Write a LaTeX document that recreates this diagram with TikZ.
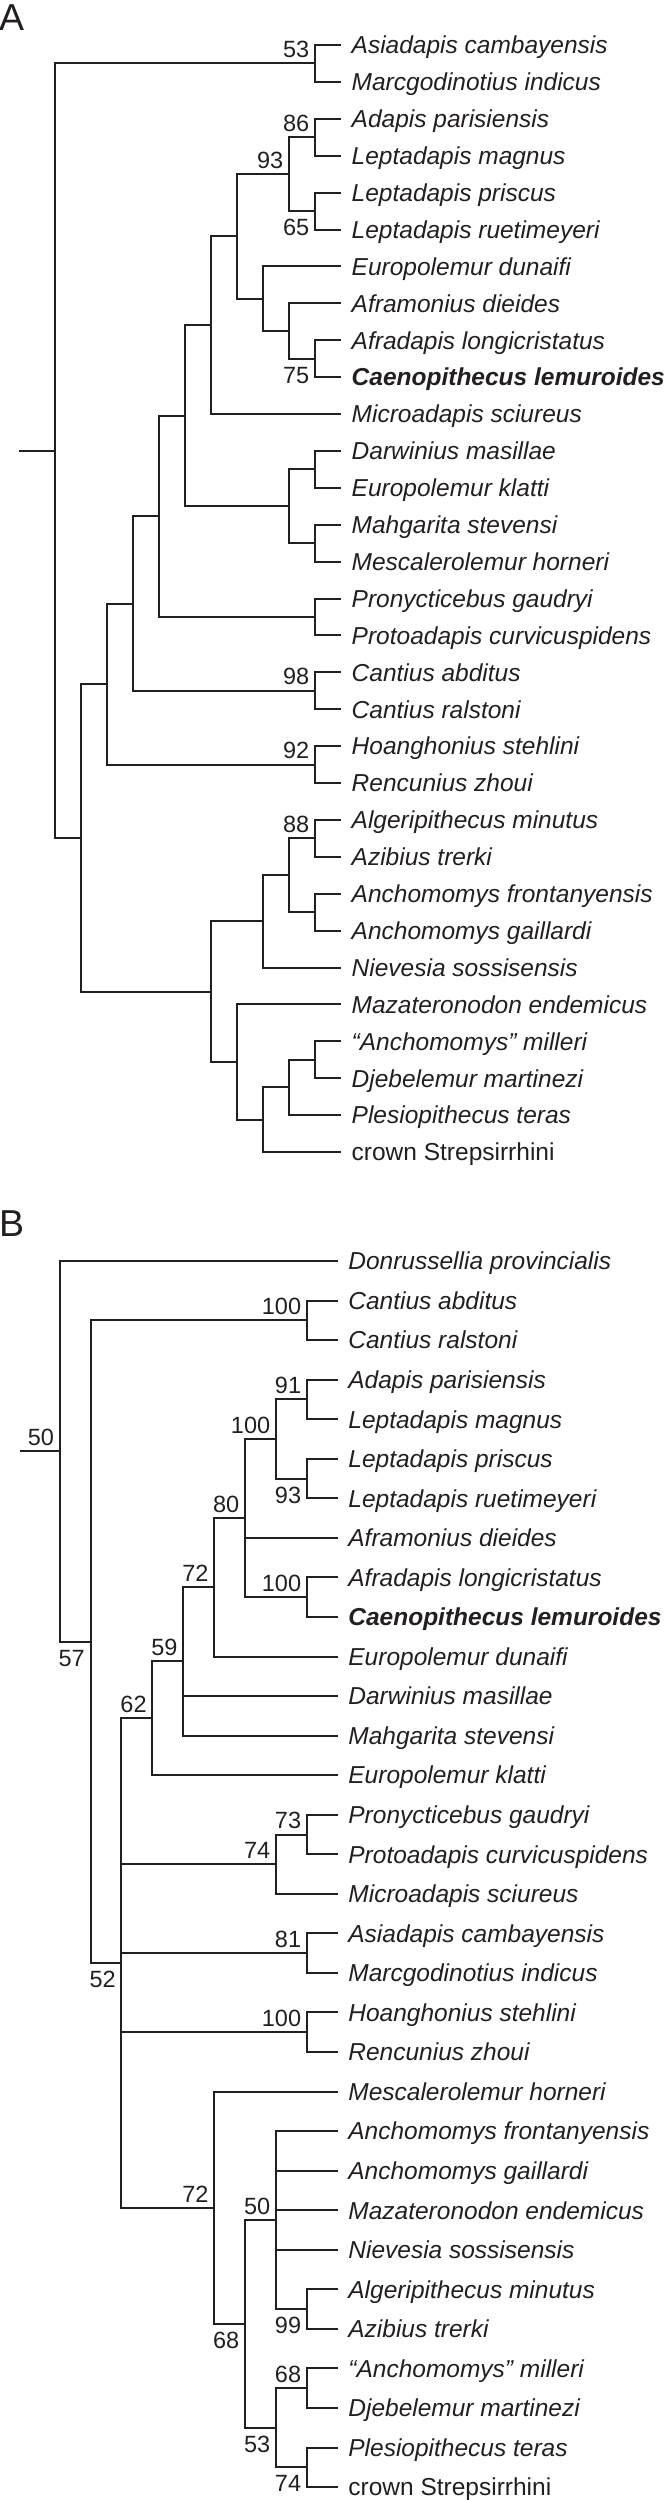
\documentclass[tikz,border=0pt]{standalone}
\usepackage{fontspec}
\setmainfont{Liberation Sans}
\definecolor{ink}{HTML}{231F20}
\newcommand\lf[4]{\coordinate (#1) at (#2,#3); \node[leaf] (t#1) at (#1) {#4};}
\newcommand\nd[3]{\coordinate (#1) at (#2,#3);}
\newcommand\cl[2]{\draw[br] (#1) |- (#2);}
\begin{document}
\begin{tikzpicture}[x=1pt,y=-1pt,
  br/.style={draw=ink, line width=2pt, line join=miter, line cap=butt},
  leaf/.style={anchor=base west, inner sep=0pt, xshift=10.5pt, yshift=-8.8pt,
    font=\fontsize{24.5}{29}\selectfont\itshape, text=ink},
  up/.style={anchor=south east, inner sep=0pt, xshift=-5.5pt, yshift=5.5pt,
    font=\fontsize{23.5}{28}\selectfont, text=ink},
  dn/.style={anchor=north east, inner sep=0pt, xshift=-5.5pt, yshift=-8pt,
    font=\fontsize{23.5}{28}\selectfont, text=ink},
  panel/.style={anchor=base west, inner sep=0pt, font=\fontsize{37.5}{40}\selectfont, text=ink}]
\useasboundingbox (0,0) rectangle (668,2500);

% ---------------- Panel A ----------------
\node[panel] (labA) at (-1,30) {A};
\lf{aAsi}{341}{45}{Asiadapis cambayensis}
\lf{aMar}{341}{81.9}{Marcgodinotius indicus}
\lf{aAda}{341}{118.8}{Adapis parisiensis}
\lf{aLma}{341}{155.7}{Leptadapis magnus}
\lf{aLpr}{341}{192.6}{Leptadapis priscus}
\lf{aLru}{341}{229.5}{Leptadapis ruetimeyeri}
\lf{aEdu}{341}{266.4}{Europolemur dunaifi}
\lf{aAfm}{341}{303.3}{Aframonius dieides}
\lf{aAfr}{341}{340.2}{Afradapis longicristatus}
\lf{aCae}{341}{377.1}{\bfseries Caenopithecus lemuroides}
\lf{aMic}{341}{414}{Microadapis sciureus}
\lf{aDar}{341}{450.9}{Darwinius masillae}
\lf{aEkl}{341}{487.8}{Europolemur klatti}
\lf{aMah}{341}{524.7}{Mahgarita stevensi}
\lf{aMes}{341}{561.6}{Mescalerolemur horneri}
\lf{aPro}{341}{598.5}{Pronycticebus gaudryi}
\lf{aPtc}{341}{635.4}{Protoadapis curvicuspidens}
\lf{aCab}{341}{672.3}{Cantius abditus}
\lf{aCra}{341}{709.2}{Cantius ralstoni}
\lf{aHoa}{341}{746.1}{Hoanghonius stehlini}
\lf{aRen}{341}{783}{Rencunius zhoui}
\lf{aAlg}{341}{819.9}{Algeripithecus minutus}
\lf{aAzi}{341}{856.8}{Azibius trerki}
\lf{aAnf}{341}{893.7}{Anchomomys frontanyensis}
\lf{aAng}{341}{930.6}{Anchomomys gaillardi}
\lf{aNie}{341}{967.5}{Nievesia sossisensis}
\lf{aMaz}{341}{1004.4}{Mazateronodon endemicus}
\lf{aMil}{341}{1041.3}{“Anchomomys” milleri}
\lf{aDje}{341}{1078.2}{Djebelemur martinezi}
\lf{aPle}{341}{1115.1}{Plesiopithecus teras}
\lf{aCro}{341}{1152}{\upshape crown Strepsirrhini}

\nd{AStub}{19}{450.65}
\nd{ARoot}{55}{450.65}
\nd{AcAsi}{315}{63.45}
\nd{AX}{81}{837.85}
\nd{AY}{107}{684}
\nd{AW}{133}{603.5}
\nd{AV}{159}{516.3}
\nd{AU}{185}{415.7}
\nd{AT}{211}{325.2}
\nd{AS}{237}{236.4}
\nd{AR}{289}{174.15}
\nd{AcAda}{315}{137.25}
\nd{AcLep}{315}{211.05}
\nd{AQ}{263}{298.7}
\nd{AP}{289}{330.975}
\nd{AcAfr}{315}{358.65}
\nd{AD}{289}{506.25}
\nd{AcDar}{315}{469.35}
\nd{AcMah}{315}{543.15}
\nd{AcPro}{315}{616.95}
\nd{AcCan}{315}{690.75}
\nd{AcHoa}{315}{764.55}
\nd{AZ}{211}{991.7}
\nd{AN}{263}{921.4}
\nd{AL}{289}{875.25}
\nd{AcAlg}{315}{838.35}
\nd{AcAnc}{315}{912.15}
\nd{AM}{237}{1062.05}
\nd{AK}{263}{1119.7}
\nd{AJ}{289}{1087.4}
\nd{AcMil}{315}{1059.75}

\draw[br] (AStub) -- (ARoot);
\cl{ARoot}{AcAsi} \cl{ARoot}{AX}
\cl{AcAsi}{aAsi} \cl{AcAsi}{aMar}
\cl{AX}{AY} \cl{AX}{AZ}
\cl{AY}{AW} \cl{AY}{AcHoa}
\cl{AW}{AV} \cl{AW}{AcCan}
\cl{AV}{AU} \cl{AV}{AcPro}
\cl{AU}{AT} \cl{AU}{AD}
\cl{AT}{AS} \cl{AT}{aMic}
\cl{AS}{AR} \cl{AS}{AQ}
\cl{AR}{AcAda} \cl{AR}{AcLep}
\cl{AcAda}{aAda} \cl{AcAda}{aLma}
\cl{AcLep}{aLpr} \cl{AcLep}{aLru}
\cl{AQ}{aEdu} \cl{AQ}{AP}
\cl{AP}{aAfm} \cl{AP}{AcAfr}
\cl{AcAfr}{aAfr} \cl{AcAfr}{aCae}
\cl{AD}{AcDar} \cl{AD}{AcMah}
\cl{AcDar}{aDar} \cl{AcDar}{aEkl}
\cl{AcMah}{aMah} \cl{AcMah}{aMes}
\cl{AcPro}{aPro} \cl{AcPro}{aPtc}
\cl{AcCan}{aCab} \cl{AcCan}{aCra}
\cl{AcHoa}{aHoa} \cl{AcHoa}{aRen}
\cl{AZ}{AN} \cl{AZ}{AM}
\cl{AN}{AL} \cl{AN}{aNie}
\cl{AL}{AcAlg} \cl{AL}{AcAnc}
\cl{AcAlg}{aAlg} \cl{AcAlg}{aAzi}
\cl{AcAnc}{aAnf} \cl{AcAnc}{aAng}
\cl{AM}{aMaz} \cl{AM}{AK}
\cl{AK}{AJ} \cl{AK}{aCro}
\cl{AJ}{AcMil} \cl{AJ}{aPle}
\cl{AcMil}{aMil} \cl{AcMil}{aDje}

\node[up] (sA1) at (AcAsi) {53};
\node[up] (sA2) at (AcAda) {86};
\node[up] (sA3) at (AR) {93};
\node[dn] (sA4) at (AcLep) {65};
\node[dn] (sA5) at (AcAfr) {75};
\node[up] (sA6) at (AcCan) {98};
\node[up] (sA7) at (AcHoa) {92};
\node[up] (sA8) at (AcAlg) {88};

% ---------------- Panel B ----------------
\node[panel] (labB) at (-1,1236.7) {B};
\lf{bDon}{337.7}{1261}{Donrussellia provincialis}
\lf{bCab}{337.7}{1300.55}{Cantius abditus}
\lf{bCra}{337.7}{1340.1}{Cantius ralstoni}
\lf{bAda}{337.7}{1379.65}{Adapis parisiensis}
\lf{bLma}{337.7}{1419.2}{Leptadapis magnus}
\lf{bLpr}{337.7}{1458.75}{Leptadapis priscus}
\lf{bLru}{337.7}{1498.3}{Leptadapis ruetimeyeri}
\lf{bAfm}{337.7}{1537.85}{Aframonius dieides}
\lf{bAfr}{337.7}{1577.4}{Afradapis longicristatus}
\lf{bCae}{337.7}{1616.95}{\bfseries Caenopithecus lemuroides}
\lf{bEdu}{337.7}{1656.5}{Europolemur dunaifi}
\lf{bDar}{337.7}{1696.05}{Darwinius masillae}
\lf{bMah}{337.7}{1735.6}{Mahgarita stevensi}
\lf{bEkl}{337.7}{1775.15}{Europolemur klatti}
\lf{bPro}{337.7}{1814.7}{Pronycticebus gaudryi}
\lf{bPtc}{337.7}{1854.25}{Protoadapis curvicuspidens}
\lf{bMic}{337.7}{1893.8}{Microadapis sciureus}
\lf{bAsi}{337.7}{1933.35}{Asiadapis cambayensis}
\lf{bMar}{337.7}{1972.9}{Marcgodinotius indicus}
\lf{bHoa}{337.7}{2012.45}{Hoanghonius stehlini}
\lf{bRen}{337.7}{2052}{Rencunius zhoui}
\lf{bMes}{337.7}{2091.55}{Mescalerolemur horneri}
\lf{bAnf}{337.7}{2131.1}{Anchomomys frontanyensis}
\lf{bAng}{337.7}{2170.65}{Anchomomys gaillardi}
\lf{bMaz}{337.7}{2210.2}{Mazateronodon endemicus}
\lf{bNie}{337.7}{2249.75}{Nievesia sossisensis}
\lf{bAlg}{337.7}{2289.3}{Algeripithecus minutus}
\lf{bAzi}{337.7}{2328.85}{Azibius trerki}
\lf{bMil}{337.7}{2368.4}{“Anchomomys” milleri}
\lf{bDje}{337.7}{2407.95}{Djebelemur martinezi}
\lf{bPle}{337.7}{2447.5}{Plesiopithecus teras}
\lf{bCro}{337.7}{2487.05}{\upshape crown Strepsirrhini}

\nd{BStub}{20.4}{1451.3}
\nd{BRoot}{59.6}{1451.3}
\nd{BOne}{90.5}{1641.65}
\nd{BcCan}{306.8}{1320.3}
\nd{BTwo}{121.4}{1963}
\nd{BThree}{152.3}{1718.3}
\nd{BSix}{183.2}{1661.45}
\nd{BSeven}{214.1}{1587.3}
\nd{BEight}{245}{1518.1}
\nd{BNine}{275.9}{1438.95}
\nd{BcAda}{306.8}{1399.4}
\nd{BcLep}{306.8}{1478.5}
\nd{BcAfr}{306.8}{1597.2}
\nd{BFour}{275.9}{1864.15}
\nd{BcPro}{306.8}{1834.5}
\nd{BcAsi}{306.8}{1953.1}
\nd{BcHoa}{306.8}{2032.2}
\nd{BFive}{214.1}{2207.7}
\nd{BTen}{245}{2323.9}
\nd{BEleven}{275.9}{2220.1}
\nd{BcAlg}{306.8}{2309.1}
\nd{BTwelve}{275.9}{2427.75}
\nd{BcMil}{306.8}{2388.2}
\nd{BcPle}{306.8}{2467.3}

\draw[br] (BStub) -- (BRoot);
\cl{BRoot}{bDon} \cl{BRoot}{BOne}
\cl{BOne}{BcCan} \cl{BOne}{BTwo}
\cl{BcCan}{bCab} \cl{BcCan}{bCra}
\cl{BTwo}{BThree} \cl{BTwo}{BFour} \cl{BTwo}{BcAsi} \cl{BTwo}{BcHoa} \cl{BTwo}{BFive}
\cl{BThree}{BSix} \cl{BThree}{bEkl}
\cl{BSix}{BSeven} \cl{BSix}{bDar} \cl{BSix}{bMah}
\cl{BSeven}{BEight} \cl{BSeven}{bEdu}
\cl{BEight}{BNine} \cl{BEight}{bAfm} \cl{BEight}{BcAfr}
\cl{BNine}{BcAda} \cl{BNine}{BcLep}
\cl{BcAda}{bAda} \cl{BcAda}{bLma}
\cl{BcLep}{bLpr} \cl{BcLep}{bLru}
\cl{BcAfr}{bAfr} \cl{BcAfr}{bCae}
\cl{BFour}{BcPro} \cl{BFour}{bMic}
\cl{BcPro}{bPro} \cl{BcPro}{bPtc}
\cl{BcAsi}{bAsi} \cl{BcAsi}{bMar}
\cl{BcHoa}{bHoa} \cl{BcHoa}{bRen}
\cl{BFive}{bMes} \cl{BFive}{BTen}
\cl{BTen}{BEleven} \cl{BTen}{BTwelve}
\cl{BEleven}{bAnf} \cl{BEleven}{bAng} \cl{BEleven}{bMaz} \cl{BEleven}{bNie} \cl{BEleven}{BcAlg}
\cl{BcAlg}{bAlg} \cl{BcAlg}{bAzi}
\cl{BTwelve}{BcMil} \cl{BTwelve}{BcPle}
\cl{BcMil}{bMil} \cl{BcMil}{bDje}
\cl{BcPle}{bPle} \cl{BcPle}{bCro}

\node[up] (sB1) at (BRoot) {50};
\node[dn] (sB2) at (BOne) {57};
\node[up] (sB3) at (BcCan) {100};
\node[up] (sB4) at (BNine) {100};
\node[up] (sB5) at (BcAda) {91};
\node[dn] (sB6) at (BcLep) {93};
\node[up] (sB7) at (BEight) {80};
\node[up] (sB8) at (BSeven) {72};
\node[up] (sB9) at (BcAfr) {100};
\node[up] (sB10) at (BSix) {59};
\node[up] (sB11) at (BThree) {62};
\node[up] (sB12) at (BcPro) {73};
\node[up] (sB13) at (BFour) {74};
\node[up] (sB14) at (BcAsi) {81};
\node[up] (sB15) at (BcHoa) {100};
\node[dn] (sB16) at (BTwo) {52};
\node[up] (sB17) at (BFive) {72};
\node[dn] (sB18) at (BTen) {68};
\node[up] (sB19) at (BEleven) {50};
\node[dn] (sB20) at (BcAlg) {99};
\node[dn] (sB21) at (BTwelve) {53};
\node[up] (sB22) at (BcMil) {68};
\node[dn] (sB23) at (BcPle) {74};
\end{tikzpicture}
\end{document}
